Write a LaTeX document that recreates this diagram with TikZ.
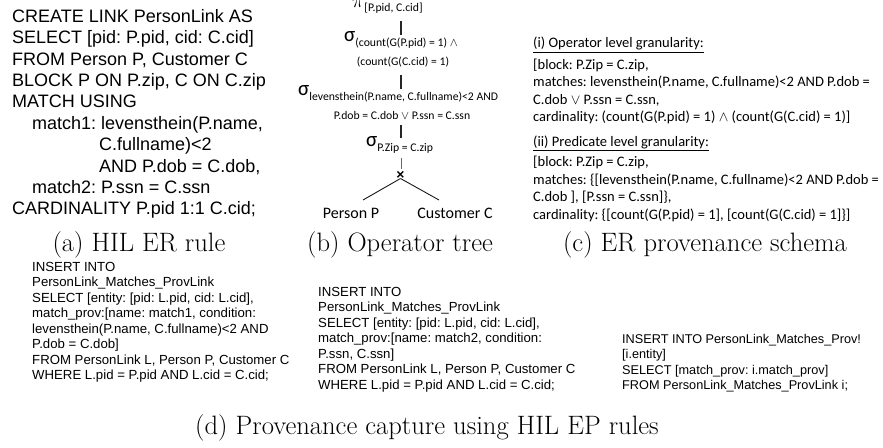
\documentclass[tikz,border=0pt]{standalone}
\usepackage{fontspec}
\newfontfamily\arialf{Liberation Sans}
\newfontfamily\calf{Carlito}
\newcommand\opsub[1]{\raisebox{-4.5pt}{\calf\fontsize{11.7}{13}\selectfont #1}}
\newcommand\opsig{{\calf\fontsize{21}{21}\selectfont σ}}
\newcommand\oppi{{\fontsize{21}{21}\selectfont$\pi$}}
\tikzset{
  codeA/.style={inner sep=0pt, align=left, font=\arialf\frenchspacing\fontsize{18}{21.4}\selectfont},
  codeD/.style={inner sep=0pt, align=left, font=\arialf\frenchspacing\fontsize{13.2}{15.5}\selectfont},
  codeE/.style={inner sep=0pt, align=left, font=\arialf\frenchspacing\fontsize{12.7}{15.5}\selectfont},
  schema/.style={inner sep=0pt, align=left, font=\calf\frenchspacing\fontsize{14.5}{17.5}\selectfont},
  capt/.style={inner sep=0pt, font=\fontsize{26.6}{30}\selectfont},
  opnode/.style={inner sep=1pt, font=\calf\frenchspacing\fontsize{11.7}{14}\selectfont},
  leaf/.style={inner sep=1pt, font=\calf\fontsize{16}{19}\selectfont},
  treeline/.style={line width=1.1pt, black!85},
  thinline/.style={line width=0.5pt, black!60},
  branch/.style={line width=0.9pt, black!90},
}
\begin{document}
\begin{tikzpicture}[x=1pt,y=-1pt]
\useasboundingbox (0,0) rectangle (883,447);
\fill[white] (0,0) rectangle (883,447);

% (a) HIL ER rule
\node[codeA, anchor=north west] (rule) at (12,9) {CREATE LINK PersonLink AS\\
SELECT [pid: P.pid, cid: C.cid]\\
FROM Person P, Customer C\\
BLOCK P ON P.zip, C ON C.zip\\
MATCH USING\\
\hspace*{20pt}match1: levensthein(P.name,\\
\hspace*{87pt}C.fullname)<2\\
\hspace*{87pt}AND P.dob = C.dob,\\
\hspace*{20pt}match2: P.ssn = C.ssn\\
CARDINALITY P.pid 1:1 C.cid;};

% (b) operator tree
\node[opnode, anchor=west] (pi) at (351,6) {\oppi\opsub{[P.pid, C.cid]}};
\node[opnode, anchor=west] (s1a) at (343,40) {\opsig\opsub{(count(G(P.pid) = 1) $\wedge$}};
\node[opnode] (s1b) at (403,62) {(count(G(C.cid) = 1)};
\node[opnode, anchor=west] (s2a) at (297,94) {\opsig\opsub{levensthein(P.name, C.fullname)<2 AND}};
\node[opnode] (s2b) at (402,115) {P.dob = C.dob $\vee$ P.ssn = C.ssn};
\node[opnode, anchor=west] (s3) at (365,145) {\opsig\opsub{P.Zip = C.zip}};
\node[inner sep=0.5pt, font=\arialf\bfseries\fontsize{14}{14}\selectfont] (cross) at (400.5,175.5) {×};
\node[leaf] (person) at (351,213) {Person P};
\node[leaf] (cust) at (455,213) {Customer C};
\coordinate (l1a) at (401,21);  \coordinate (l1b) at (401,35);
\coordinate (l2a) at (401,75);  \coordinate (l2b) at (401,89);
\coordinate (l3a) at (401,125); \coordinate (l3b) at (401,138);
\coordinate (l4a) at (401,158); \coordinate (l4b) at (401,169);
\coordinate (bp) at (363,200);  \coordinate (bc) at (439,200);
\draw[treeline] (l1a) -- (l1b);
\draw[treeline] (l2a) -- (l2b);
\draw[treeline] (l3a) -- (l3b);
\draw[thinline] (l4a) -- (l4b);
\draw[branch] ([yshift=-3pt]cross.center) -- (bp);
\draw[branch] ([yshift=-3pt]cross.center) -- (bc);

% (c) ER provenance schema
\node[schema, anchor=north west] (schema) at (533,37) {\underline{(i) Operator level granularity:}\\[4pt]
{[}block: P.Zip = C.zip,\\
matches: levensthein(P.name, C.fullname)<2 AND P.dob =\\
C.dob $\vee$ P.ssn = C.ssn,\\
cardinality: (count(G(P.pid) = 1) $\wedge$ (count(G(C.cid) = 1)]\\[7pt]
\underline{(ii) Predicate level granularity:}\\[3pt]
{[}block: P.Zip = C.zip,\\
matches: \{[levensthein(P.name, C.fullname)<2 AND P.dob =\\
C.dob ], [P.ssn = C.ssn]\},\\
cardinality: \{[count(G(P.pid) = 1], [count(G(C.cid) = 1]\}]};

% captions
\node[capt] (capa) at (139,245) {(a) HIL ER rule};
\node[capt] (capb) at (400,245) {(b) Operator tree};
\node[capt] (capc) at (705,245) {(c) ER provenance schema};
\node[capt] (capd) at (427,428) {(d) Provenance capture using HIL EP rules};

% (d) code blocks
\node[codeD, anchor=north west] (ep1) at (32,262) {INSERT INTO\\
PersonLink\_Matches\_ProvLink\\
SELECT [entity: [pid: L.pid, cid: L.cid],\\
match\_prov:[name: match1, condition:\\
levensthein(P.name, C.fullname)<2 AND\\
P.dob = C.dob]\\
FROM PersonLink L, Person P, Customer C\\
WHERE L.pid = P.pid AND L.cid = C.cid;};
\node[codeD, anchor=north west] (ep2) at (318,287) {INSERT INTO\\
PersonLink\_Matches\_ProvLink\\
SELECT [entity: [pid: L.pid, cid: L.cid],\\
match\_prov:[name: match2, condition:\\
P.ssn, C.ssn]\\
FROM PersonLink L, Person P, Customer C\\
WHERE L.pid = P.pid AND L.cid = C.cid;};
\node[codeE, anchor=north west] (ep3) at (622,334) {INSERT INTO PersonLink\_Matches\_Prov!\\
{[}i.entity]\\
SELECT [match\_prov: i.match\_prov]\\
FROM PersonLink\_Matches\_ProvLink i;};
\end{tikzpicture}
\end{document}
